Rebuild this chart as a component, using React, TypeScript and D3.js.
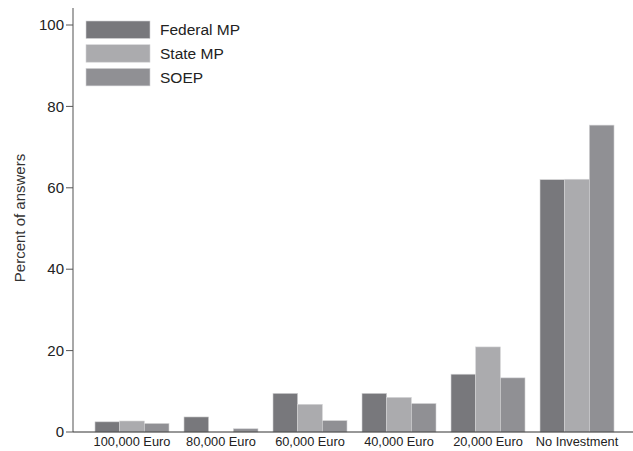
import React from 'react';
import { scaleBand, scaleLinear } from 'd3';

const categories = ['100,000 Euro', '80,000 Euro', '60,000 Euro', '40,000 Euro', '20,000 Euro', 'No Investment'];
const seriesNames = ['Federal MP', 'State MP', 'SOEP'];
const federalMP = [2.5, 3.7, 9.5, 9.5, 14.2, 62.0];
const stateMP = [2.7, 0, 6.8, 8.5, 20.9, 62.1];
const soep = [2.1, 0.8, 2.8, 7.0, 13.3, 75.4];
const yTicks = [0, 20, 40, 60, 80, 100];
const colors = ['#78787c', '#ababae', '#909094'];

const App = () => {
    const width = 633;
    const height = 451;
    const margin = { top: 8, left: 73, bottom: 19 };
    const font = 'Liberation Sans, Arial, Helvetica, sans-serif';

    const y = scaleLinear().domain([0, 100]).range([432, 25]);
    const x = scaleBand<string>().domain(categories).range([margin.left, 636]).paddingInner(15 / 89).paddingOuter(0.247);
    const inner = scaleBand<string>().domain(seriesNames).range([0, x.bandwidth()]);
    const series = [federalMP, stateMP, soep];

    return (
        <svg width={width} height={height} style={{ position: 'absolute', left: 0, top: 0, background: '#fff' }} fontFamily={font}>
            {/* bars */}
            {categories.map((c, i) => (
                <g key={c} transform={`translate(${x(c)},0)`}>
                    {series.map((s, j) => s[i] > 0 ? (
                        <rect key={j} x={inner(seriesNames[j])} y={y(s[i])} width={inner.bandwidth()} height={y(0) - y(s[i])}
                            fill={colors[j]} stroke="#d4d4d6" strokeWidth={0.6} />
                    ) : null)}
                </g>
            ))}

            {/* axes */}
            <line x1={margin.left} x2={margin.left} y1={margin.top} y2={y(0)} stroke="#6e6e6e" strokeWidth={1.2} />
            <line x1={margin.left} x2={width} y1={y(0)} y2={y(0)} stroke="#333" strokeWidth={1.2} />
            {yTicks.map(t => (
                <g key={t} transform={`translate(${margin.left},${y(t)})`}>
                    <line x1={-7} x2={0} stroke="#555" strokeWidth={1} />
                    <text x={-9} dy="0.35em" textAnchor="end" fontSize={15} fill="#222">{t}</text>
                </g>
            ))}
            {categories.map(c => (
                <text key={c} x={(x(c) ?? 0) + x.bandwidth() / 2} y={446} textAnchor="middle" fontSize={12.8} fill="#222">{c}</text>
            ))}
            <text transform={`translate(25,218) rotate(-90)`} textAnchor="middle" fontSize={15} fill="#333">Percent of answers</text>

            {/* legend */}
            {seriesNames.map((n, i) => (
                <g key={n} transform={`translate(86,${21 + i * 23.7})`}>
                    <rect width={64} height={17.5} fill={colors[i]} stroke="#d4d4d6" strokeWidth={0.6} />
                    <text x={74} y={9} dy="0.35em" fontSize={15.5} fill="#222">{n}</text>
                </g>
            ))}
        </svg>
    );
};

export default App;
